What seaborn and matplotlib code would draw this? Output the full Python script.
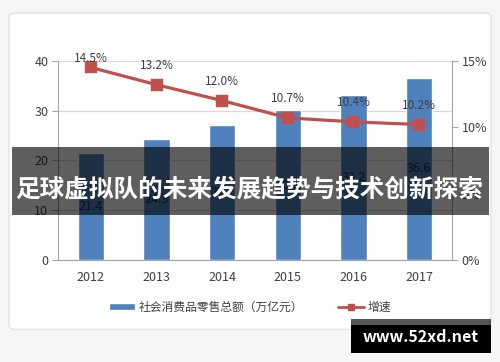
import numpy as np
import matplotlib
matplotlib.use("Agg")
import matplotlib.pyplot as plt
from matplotlib.patches import Rectangle, FancyBboxPatch
from matplotlib.lines import Line2D
import seaborn as sns

# data
years = ["2012", "2013", "2014", "2015", "2016", "2017"]
sales = [21.4, 24.3, 27.2, 30.1, 33.2, 36.6]          # 万亿元
growth = [14.5, 13.2, 12.0, 10.7, 10.4, 10.2]         # %
bar_name = "社会消费品零售总额（万亿元）"
line_name = "增速"
banner_text = "足球虚拟队的未来发展趋势与技术创新探索"
watermark = "www.52xd.net"

sns.set_style("white")
plt.rcParams["font.family"] = ["Noto Sans CJK SC", "DejaVu Sans"]

BLUE = "#4F81BD"
RED = "#C0504D"
GRID = "#d9d9d9"
TXT = "#404040"

fig = plt.figure(figsize=(5, 3.62), dpi=100, facecolor="#f6f6f6")

# white card behind the chart
card = FancyBboxPatch((0.018, 0.09), 0.964, 0.874, boxstyle="round,pad=0,rounding_size=0.012",
                      transform=fig.transFigure, facecolor="white", edgecolor="#e2e2e2",
                      linewidth=1, zorder=0)
fig.add_artist(card)

ax = fig.add_axes([0.116, 0.282, 0.788, 0.550])
ax.set_facecolor("none")
sns.barplot(x=years, y=sales, color=BLUE, width=0.4, saturation=1, ax=ax, zorder=3)
ax.set_ylim(0, 40)
ax.set_yticks([0, 10, 20, 30, 40])
ax.yaxis.grid(True, color=GRID, linewidth=0.9, zorder=0)
ax.set_axisbelow(True)
ax.set_xlim(-0.5, 5.5)

for i, v in enumerate(sales):
    ax.text(i, v / 2, f"{v:.1f}", ha="center", va="center", fontsize=9, color="#1f2f45", zorder=4)

ax2 = ax.twinx()
sns.pointplot(x=years, y=growth, color=RED, markers="s", ax=ax2, markersize=7, linewidth=2.3)
ax2.set_ylim(0, 15)
ax2.set_yticks([0, 5, 10, 15])
ax2.set_yticklabels(["0%", "5%", "10%", "15%"])
ax2.set_xlim(-0.5, 5.5)
ax2.set_ylabel("")
for i, v in enumerate(growth):
    ax2.text(i, min(v + 1.45, 15.15), f"{v:.1f}%", ha="center", va="center",
             fontsize=8.5, color=TXT, zorder=5)

for a in (ax, ax2):
    a.spines["top"].set_visible(False)
    for s in ("left", "right", "bottom"):
        a.spines[s].set_color("#a6a6a6")
        a.spines[s].set_linewidth(0.8)
    a.set_xlabel("")
    a.tick_params(axis="y", length=4, color="#a6a6a6", labelsize=9, labelcolor=TXT, pad=3)

ax.spines["right"].set_visible(False)
ax2.spines["left"].set_visible(False)
ax.set_ylabel("")
ax.set_xticks(range(len(years)))
ax.set_xticklabels(years)
ax.tick_params(axis="x", which="major", length=0, labelsize=9, labelcolor=TXT, pad=8)
ax.set_xticks(np.arange(-0.5, 6, 1), minor=True)
ax.tick_params(axis="x", which="minor", length=4, color="#a6a6a6")
ax2.tick_params(axis="x", length=0)

# legend
handles = [Rectangle((0, 0), 1, 1, facecolor=BLUE),
           Line2D([0], [0], color=RED, linewidth=2, marker="s", markersize=5)]
fig.legend(handles, [bar_name, line_name], loc="center", bbox_to_anchor=(0.5, 0.152),
           ncol=2, frameon=False, fontsize=8.5, labelcolor=TXT, handlelength=2.2,
           handleheight=0.6, columnspacing=3, handletextpad=0.3)

# dark banner across the middle
fig.add_artist(Rectangle((0.024, 0.406), 0.954, 0.188, transform=fig.transFigure,
                         facecolor="black", alpha=0.63, edgecolor="none", zorder=10))
fig.text(0.498, 0.478, banner_text, ha="center", va="center", color="white",
         fontsize=17.7, fontweight="bold", zorder=11)

# watermark box bottom right
fig.add_artist(Rectangle((0.702, 0.102), 0.280, 0.017, transform=fig.transFigure,
                         facecolor="#555555", edgecolor="none", zorder=10))
fig.add_artist(Rectangle((0.702, 0.025), 0.280, 0.077, transform=fig.transFigure,
                         facecolor="black", edgecolor="none", zorder=10))
fig.text(0.842, 0.068, watermark, ha="center", va="center", color="white",
         fontsize=11.5, fontweight="bold", zorder=11)

fig.savefig("out.png", dpi=100, facecolor=fig.get_facecolor())
